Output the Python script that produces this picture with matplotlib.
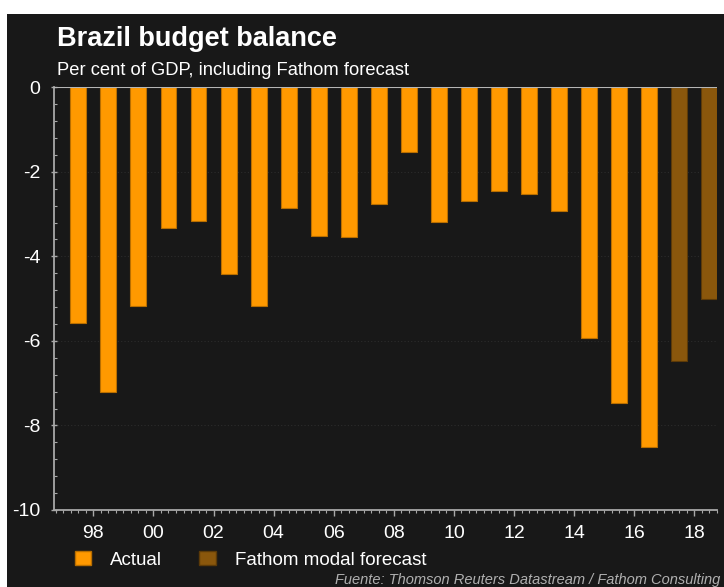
import numpy as np
import matplotlib
matplotlib.use("Agg")
import matplotlib.pyplot as plt
from matplotlib.patches import Patch, Rectangle
from matplotlib.ticker import MultipleLocator, FixedLocator

plt.rcParams['font.family'] = ['Liberation Sans', 'DejaVu Sans']
plt.rcParams['axes.unicode_minus'] = False

# Data (per cent of GDP), bars sit at mid-year
years = np.arange(1997, 2019)
balance = [-5.57, -7.20, -5.18, -3.32, -3.16, -4.41, -5.18, -2.85, -3.51, -3.55,
           -2.76, -1.52, -3.18, -2.69, -2.46, -2.52, -2.92, -5.94, -7.47, -8.50,
           -6.48, -5.01]
is_forecast = [False] * 20 + [True] * 2
tick_years = np.arange(1998, 2019, 2)
tick_labels = ['%02d' % (y % 100) for y in tick_years]

bg = '#181818'
c_actual = '#ff9900'
c_fcst = '#8a570c'

W, H = 724, 587
fig = plt.figure(figsize=(W / 100, H / 100), dpi=100, facecolor='white')
fig.patches.append(Rectangle((7.3 / W, 0), 1, 1 - 14.3 / H, transform=fig.transFigure,
                             facecolor=bg, edgecolor='none', zorder=-10))

ax = fig.add_axes([54.3 / W, 1 - 510 / H, (717 - 54.3) / W, (510 - 87.3) / H])
ax.set_facecolor(bg)

cols = [c_fcst if f else c_actual for f in is_forecast]
edges = ['#5c3a08' if f else '#b86e00' for f in is_forecast]
ax.bar(years + 0.5, balance, width=0.53, color=cols, edgecolor=edges, linewidth=0.8, zorder=3)

ax.axhline(0, color='#b5b5b5', lw=1.5, zorder=4)
ax.set_xlim(1996.70, 2018.755)
ax.set_ylim(-10, 0)

for s in ['top', 'right']:
    ax.spines[s].set_visible(False)
for s in ['left', 'bottom']:
    ax.spines[s].set_color('#a8a8a8')
    ax.spines[s].set_linewidth(1.3)

ax.xaxis.set_major_locator(FixedLocator(tick_years))
ax.set_xticklabels(tick_labels)
ax.xaxis.set_minor_locator(MultipleLocator(0.25))
ax.yaxis.set_major_locator(MultipleLocator(2))
ax.yaxis.set_minor_locator(MultipleLocator(0.4))
ax.tick_params(axis='x', which='major', direction='out', length=4, width=1,
               color='#a8a8a8', labelsize=14, labelcolor='white', pad=7)
ax.tick_params(axis='x', which='minor', direction='out', length=2, width=0.8, color='#a8a8a8')
ax.tick_params(axis='y', which='major', direction='inout', length=4, width=1,
               color='#a8a8a8', labelsize=14, labelcolor='white', pad=8)
ax.tick_params(axis='y', which='minor', direction='in', length=2, width=0.8, color='#a8a8a8')
ax.yaxis.grid(True, which='major', color='#2c2c2c', ls=(0, (1, 2)), lw=0.8, zorder=0)

fig.text(57 / W, 1 - 46 / H, 'Brazil budget balance', color='white', fontsize=19.5,
         fontweight='bold', va='baseline', ha='left')
fig.text(57 / W, 1 - 75 / H, 'Per cent of GDP, including Fathom forecast', color='white',
         fontsize=13.2, va='baseline', ha='left')

handles = [Patch(facecolor=c_actual, edgecolor='#b86e00', label='Actual'),
           Patch(facecolor=c_fcst, edgecolor='#5c3a08', label='Fathom modal forecast')]
leg = fig.legend(handles=handles, loc='center left', bbox_to_anchor=(74.7 / W, 1 - 560 / H),
                 ncol=2, frameon=False, fontsize=13.5, handlelength=0.88, handleheight=0.75,
                 handletextpad=1.0, columnspacing=2.0, borderpad=0, borderaxespad=0)
for t in leg.get_texts():
    t.set_color('white')

fig.text(720 / W, 1 - 584 / H, 'Fuente: Thomson Reuters Datastream / Fathom Consulting',
         color='#b0b0b0', fontsize=10.5, style='italic', ha='right', va='baseline')

fig.savefig('out.png', dpi=100, facecolor='white')
